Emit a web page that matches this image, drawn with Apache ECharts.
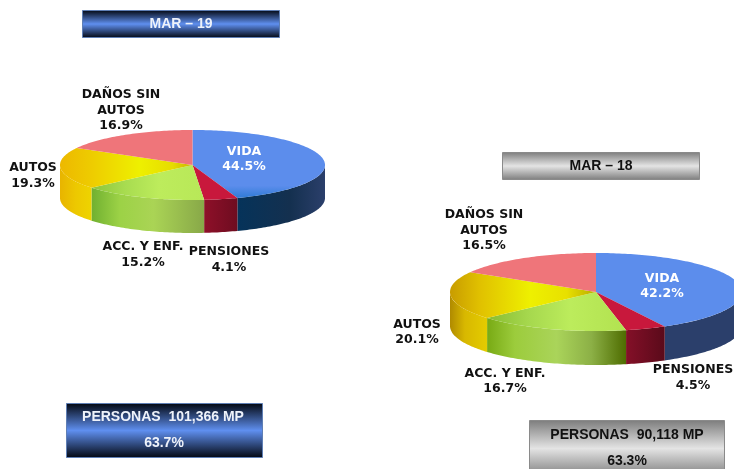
<!DOCTYPE html>
<html><head><meta charset="utf-8">
<style>html,body{margin:0;padding:0;background:#fff}#c{width:734px;height:469px}</style>
<script src="https://cdn.jsdelivr.net/npm/echarts@6/dist/echarts.min.js"></script>
</head><body><div id="c"></div>
<script>
// ---- data ----
const categories = ['VIDA', 'PENSIONES', 'ACC. Y ENF.', 'AUTOS', 'DAÑOS SIN\nAUTOS'];
const valuesMar19 = [44.5, 4.1, 15.2, 19.3, 16.9];
const valuesMar18 = [42.2, 4.5, 16.7, 20.1, 16.5];
const periodMar19 = 'MAR – 19';
const periodMar18 = 'MAR – 18';
const totalMar19 = 'PERSONAS  101,366 MP';
const totalMar18 = 'PERSONAS  90,118 MP';
const shareMar19 = '63.7%';
const shareMar18 = '63.3%';

// ---- layout & style ----
const pie19 = {cx: 192.5, cy: 165, rx: 132.5, ry: 35, depth: 33,
  labels: [[244, 159], [229, 259.5], [143, 254.5], [33, 175.5], [121, 110.5]]};
const pie18 = {cx: 596, cy: 292, rx: 146, ry: 39, depth: 34,
  labels: [[662, 286], [693, 377.5], [505, 381], [417, 332], [484, 230.5]]};
const grad = (stops) => ({type: 'linear', x: 0, y: 0, x2: 1, y2: 0,
  colorStops: stops.map(c => ({offset: c[0], color: c[1]}))});
const topFill19 = [
  {type:'linear',x:0,y:0,x2:0,y2:1,colorStops:[{offset:0,color:'#5c8dec'},{offset:.82,color:'#5c8dec'},{offset:1,color:'#2f7bd6'}]},
  '#c8183c',
  grad([[0,'#8cc53a'],[.3,'#a8dc50'],[.6,'#bdec5c'],[1,'#b8e858']]),
  grad([[0,'#edb800'],[.25,'#eecd00'],[.6,'#eef000'],[.85,'#e6dc00'],[1,'#c8b400']]),
  '#ef757a'];
const wallFill19 = [
  grad([[0,'#05335a'],[.6,'#14304f'],[1,'#2b3f6b']]),
  grad([[0,'#8e1029'],[1,'#6e0c20']]),
  grad([[0,'#70b030'],[.25,'#9cd246'],[.55,'#aad455'],[1,'#88a848']]),
  grad([[0,'#e8b400'],[.5,'#edc800'],[1,'#eed400']]),
  '#ef757a'];
const topFill18 = [
  '#5c8dec',
  '#c8183c',
  grad([[0,'#88bc30'],[.3,'#a6d84e'],[.6,'#bcec5c'],[1,'#b2e250']]),
  grad([[0,'#c89c00'],[.2,'#e0c000'],[.55,'#eef000'],[.8,'#e8e000'],[1,'#b8ac00']]),
  '#ef757a'];
const wallFill18 = [
  '#2b3f6b',
  grad([[0,'#841028'],[1,'#5a0a1a']]),
  grad([[0,'#78aa14'],[.2,'#9ccc3c'],[.5,'#aad45a'],[.75,'#8cb046'],[1,'#4e6c00']]),
  grad([[0,'#b08a00'],[.4,'#d8b800'],[1,'#e4cc00']]),
  '#ef757a'];

const labelFont = '700 12.5px "DejaVu Sans", sans-serif';
const boxFont = '700 14px "Liberation Sans", Arial, sans-serif';
const blueV = {type:'linear',x:0,y:0,x2:0,y2:1,colorStops:[
  {offset:0,color:'#02060f'},{offset:.5,color:'#5f8fef'},{offset:1,color:'#02060f'}]};
const greyV = {type:'linear',x:0,y:0,x2:0,y2:1,colorStops:[
  {offset:0,color:'#7c7c7c'},{offset:.5,color:'#e4e4e4'},{offset:1,color:'#7c7c7c'}]};

function rimPoints(p, a, b, dy) {
  const pts = [], n = Math.max(2, Math.ceil(Math.abs(b - a) / 0.02));
  for (let i = 0; i <= n; i++) {
    const t = a + (b - a) * i / n;
    pts.push([p.cx + p.rx * Math.sin(t), p.cy - p.ry * Math.cos(t) + dy]);
  }
  return pts;
}
function pieSeries(p, values, tops, walls) {
  const total = values.reduce((s, v) => s + v, 0);
  const starts = [];
  values.reduce((s, v, i) => (starts[i] = s, s + v), 0);
  return {
    type: 'custom', coordinateSystem: 'none', silent: true, animation: false, clip: false,
    data: values.map((v, i) => ({name: categories[i], value: [v]})),
    renderItem(params, api) {
      const i = params.dataIndex, v = api.value(0), TAU = Math.PI * 2;
      const a = starts[i] / total * TAU, b = (starts[i] + v) / total * TAU;
      const children = [];
      const wa = Math.max(a, Math.PI / 2), wb = Math.min(b, Math.PI * 1.5);
      if (wb > wa) {
        const front = rimPoints(p, wa, wb, 0);
        const back = rimPoints(p, wb, wa, p.depth);
        children.push({type: 'polygon', shape: {points: front.concat(back)}, style: {fill: walls[i]}});
      }
      children.push({type: 'polygon',
        shape: {points: [[p.cx, p.cy]].concat(rimPoints(p, a, b, 0))},
        style: {fill: tops[i]}});
      children.push({type: 'text', z2: 10, x: p.labels[i][0], y: p.labels[i][1],
        style: {text: categories[i] + '\n' + v.toFixed(1) + '%', font: labelFont, lineHeight: 15.5,
          fill: i === 0 ? '#ffffff' : '#111111', align: 'center', verticalAlign: 'middle'}});
      return {type: 'group', children};
    }
  };
}
function box(x, y, w, h, fill, stroke, textColor, lines) {
  const children = [{type: 'rect', shape: {x, y, width: w, height: h},
    style: {fill, stroke, lineWidth: 1}}];
  lines.forEach(l => children.push({type: 'text', x: l[1], y: l[2], z: 5,
    style: {text: l[0], font: boxFont, fill: textColor, align: 'center', verticalAlign: 'middle'}}));
  return {type: 'group', children};
}
const chart = echarts.init(document.getElementById('c'), null, {renderer: 'canvas'});
chart.setOption({
  backgroundColor: '#ffffff',
  animation: false,
  series: [pieSeries(pie19, valuesMar19, topFill19, wallFill19),
           pieSeries(pie18, valuesMar18, topFill18, wallFill18)],
  graphic: [
    box(82.5, 10.5, 197, 27, blueV, '#5f7fb5', '#eef2fa', [[periodMar19, 181, 24]]),
    box(502.5, 152.5, 197, 27, greyV, '#8a8a8a', '#111111', [[periodMar18, 601, 166.5]]),
    box(66.5, 403.5, 196, 54, blueV, '#5f7fb5', '#eef2fa', [[totalMar19, 163, 417], [shareMar19, 164, 443]]),
    box(529.5, 420.5, 195, 56, greyV, '#8a8a8a', '#111111', [[totalMar18, 627, 435], [shareMar18, 627, 461]])
  ]
});
</script></body></html>
